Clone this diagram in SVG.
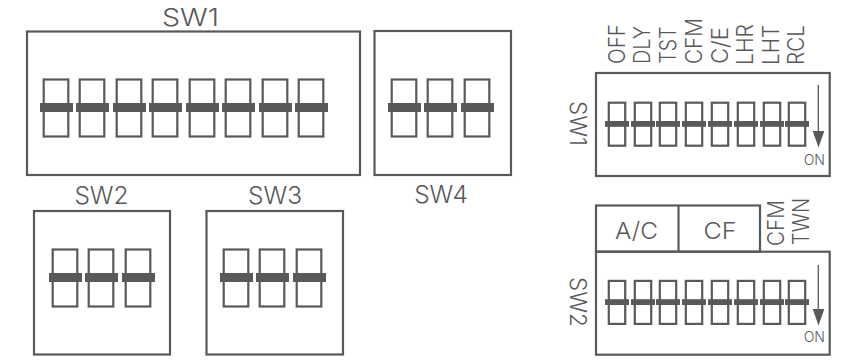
<svg xmlns="http://www.w3.org/2000/svg" width="849" height="360" viewBox="0 0 849 360">
<style>
text{font-family:"Inter","Liberation Sans",sans-serif;font-weight:300;fill:#58595b}
.t{font-size:24.500px;text-anchor:middle}
.c{font-size:23px;text-anchor:middle}
.r{font-size:22.500px}
.o{font-size:14px;text-anchor:end}
.b{fill:none;stroke:#58595b;stroke-width:2.200}
.s{fill:#58595b}
.a{stroke:#58595b;stroke-width:1.300;fill:none}
</style>
<defs>
<g id="big"><rect class="b" x="3.700" y="-23.500" width="24.600" height="57"/><rect class="s" x="0" y="0" width="33" height="9"/></g>
<g id="sm"><rect class="b" x="3.800" y="-18.300" width="16.400" height="43"/><rect class="s" x="0" y="0" width="24" height="5.800"/></g>
<g id="eight"><use href="#sm" x="0"/><use href="#sm" x="26"/><use href="#sm" x="51"/><use href="#sm" x="77"/><use href="#sm" x="103"/><use href="#sm" x="129"/><use href="#sm" x="155"/><use href="#sm" x="180"/></g>
</defs>
<g id="sw1-left">
<text class="t" x="190.500" y="26" textLength="57" lengthAdjust="spacingAndGlyphs">SW1</text>
<rect class="b" x="27" y="31.500" width="333" height="143.500"/>
<use href="#big" x="40" y="103"/><use href="#big" x="76" y="103"/><use href="#big" x="113" y="103"/><use href="#big" x="149" y="103"/><use href="#big" x="186" y="103"/><use href="#big" x="222" y="103"/><use href="#big" x="259" y="103"/><use href="#big" x="295" y="103"/>
</g>
<g id="sw4-left">
<text class="t" x="441" y="203">SW4</text>
<rect class="b" x="374.500" y="31" width="136.500" height="144"/>
<use href="#big" x="388" y="103"/><use href="#big" x="424" y="103"/><use href="#big" x="461" y="103"/>
</g>
<g id="sw2-left">
<text class="t" x="101.500" y="204">SW2</text>
<rect class="b" x="34" y="211" width="136" height="143.500"/>
<use href="#big" x="49" y="273"/><use href="#big" x="85" y="273"/><use href="#big" x="122" y="273"/>
</g>
<g id="sw3-left">
<text class="t" x="275" y="204">SW3</text>
<rect class="b" x="206.500" y="211" width="136.500" height="143.500"/>
<use href="#big" x="220" y="273"/><use href="#big" x="256" y="273"/><use href="#big" x="293" y="273"/>
</g>
<g id="sw1-right">
<rect class="b" x="596" y="73" width="233.700" height="103"/>
<use href="#eight" x="605" y="121"/>
<text class="r" transform="translate(570 101) rotate(90)">SW1</text>
<text class="r" transform="translate(624.500 64) rotate(-90)" textLength="40" lengthAdjust="spacingAndGlyphs">OFF</text>
<text class="r" transform="translate(650 64) rotate(-90)" textLength="38" lengthAdjust="spacingAndGlyphs">DLY</text>
<text class="r" transform="translate(676 63.500) rotate(-90)" textLength="37" lengthAdjust="spacingAndGlyphs">TST</text>
<text class="r" transform="translate(702 64) rotate(-90)" textLength="46" lengthAdjust="spacingAndGlyphs">CFM</text>
<text class="r" transform="translate(727.500 64) rotate(-90)" textLength="37" lengthAdjust="spacingAndGlyphs">C/E</text>
<text class="r" transform="translate(752.500 65) rotate(-90)" textLength="41" lengthAdjust="spacingAndGlyphs">LHR</text>
<text class="r" transform="translate(778.500 65) rotate(-90)" textLength="40" lengthAdjust="spacingAndGlyphs">LHT</text>
<text class="r" transform="translate(804 65) rotate(-90)" textLength="40" lengthAdjust="spacingAndGlyphs">RCL</text>
<text class="o" x="825" y="165">ON</text>
</g>
<g id="sw2-right">
<rect class="b" x="596" y="205.500" width="164" height="46.200"/>
<path class="b" d="M678.500 205.500V251.700"/>
<rect class="b" x="596" y="251.700" width="233.700" height="103"/>
<use href="#eight" x="605" y="299.200"/>
<text class="c" x="636.500" y="238.500" textLength="43" lengthAdjust="spacingAndGlyphs">A/C</text>
<text class="c" x="720" y="238.500" textLength="33" lengthAdjust="spacingAndGlyphs">CF</text>
<text class="r" transform="translate(570 277) rotate(90)">SW2</text>
<text class="r" transform="translate(783.500 246) rotate(-90)" textLength="46" lengthAdjust="spacingAndGlyphs">CFM</text>
<text class="r" transform="translate(808.500 245) rotate(-90)" textLength="47" lengthAdjust="spacingAndGlyphs">TWN</text>
<text class="o" x="825" y="342">ON</text>
</g>
<g id="connectors">
<path class="a" d="M818.300 85V134"/><path class="s" d="M812.700 131H824.300L818.500 147.500z"/>
<path class="a" d="M818.300 265V312"/><path class="s" d="M812.700 309H824.300L818.500 325.500z"/>
</g>
</svg>
